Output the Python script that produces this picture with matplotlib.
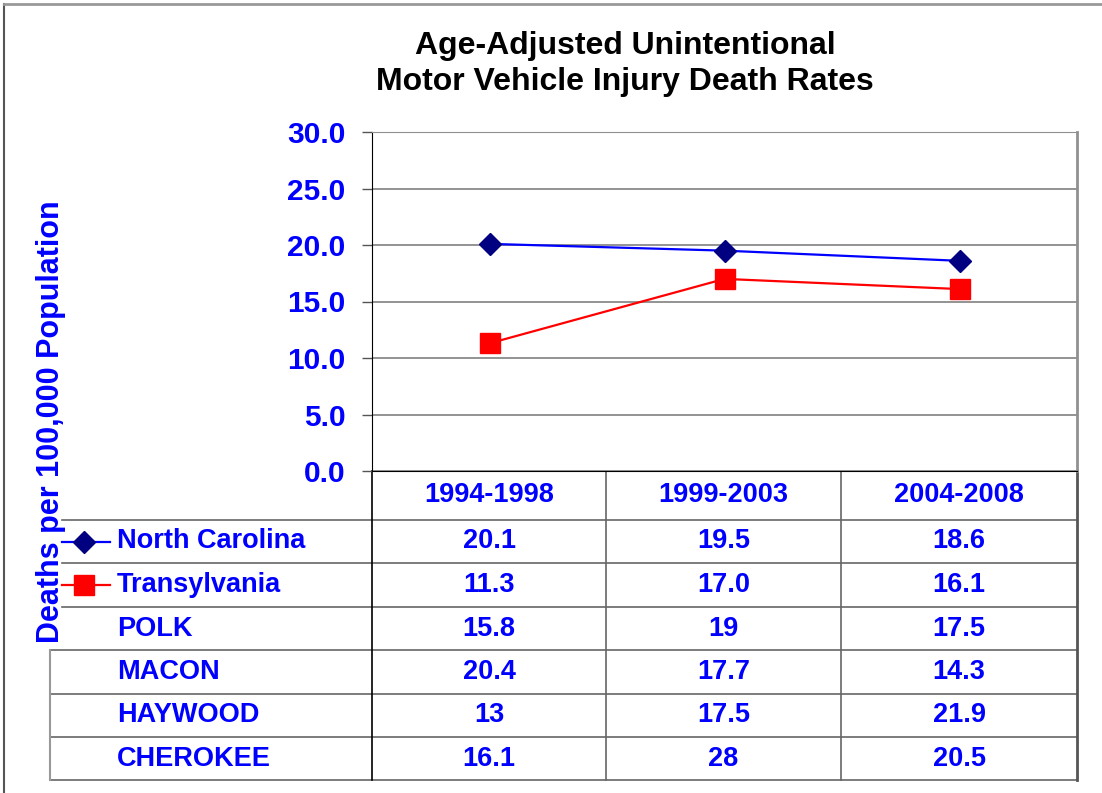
import numpy as np
import matplotlib
matplotlib.use("Agg")
import matplotlib.pyplot as plt

# Datos
periodos = ['1994-1998', '1999-2003', '2004-2008']
series = ['North Carolina', 'Transylvania', 'POLK', 'MACON', 'HAYWOOD', 'CHEROKEE']
north_carolina = [20.1, 19.5, 18.6]
transylvania = [11.3, 17.0, 16.1]
polk = ['15.8', '19', '17.5']
macon = ['20.4', '17.7', '14.3']
haywood = ['13', '17.5', '21.9']
cherokee = ['16.1', '28', '20.5']

tabla = [
    ['%.1f' % v for v in north_carolina],
    ['%.1f' % v for v in transylvania],
    polk, macon, haywood, cherokee,
]

W, H = 1102, 793
azul = '#0000FF'
fuente = 'Liberation Sans'

fig = plt.figure(figsize=(W / 100, H / 100), dpi=100)

# capa de fondo en coordenadas de pixel
capa = fig.add_axes([0, 0, 1, 1])
capa.set_xlim(0, W)
capa.set_ylim(H, 0)
capa.axis('off')

# area del grafico
x0, x1, y0, y1 = 372, 1077, 132, 471
ax = fig.add_axes([x0 / W, 1 - y1 / H, (x1 - x0) / W, (y1 - y0) / H])
x = np.arange(len(periodos))
ax.plot(x, north_carolina, color=azul, lw=1.6, marker='D', ms=11,
        mfc='#000080', mec='#000080', zorder=3)
ax.plot(x, transylvania, color='#FF0000', lw=1.6, marker='s', ms=14.5,
        mfc='#FF0000', mec='#FF0000', zorder=3)
ax.set_xlim(-0.5, len(periodos) - 0.5)
ax.set_ylim(0, 30)
ax.set_yticks(np.arange(0, 31, 5))
ax.set_yticklabels(['%.1f' % v for v in np.arange(0, 31, 5)],
                   fontfamily=fuente, fontweight='bold', fontsize=21.5, color=azul)
ax.tick_params(axis='y', length=7, width=1, color='#555555', pad=12)
ax.set_xticks([])
ax.grid(axis='y', color='#808080', lw=1.2)
ax.set_axisbelow(True)
ax.spines['left'].set_color('black')
ax.spines['bottom'].set_color('black')
ax.spines['top'].set_color('#909090')
ax.spines['right'].set_color('#909090')
ax.spines['right'].set_linewidth(2)

# titulo
capa.text(625, 64, 'Age-Adjusted Unintentional\nMotor Vehicle Injury Death Rates',
          ha='center', va='center', fontfamily=fuente, fontweight='bold',
          fontsize=23, color='black', linespacing=1.24)

# etiqueta del eje y
capa.text(51, 422, 'Deaths per 100,000 Population', rotation=90, ha='center',
          va='center', fontfamily=fuente, fontweight='bold', fontsize=22, color=azul)

# tabla de datos
filas = [471, 520, 563, 607, 650, 694, 737, 780]
cols = [372, 606, 841, 1077]
gris = '#666666'
for i, yy in enumerate(filas[1:]):
    inicio = 62 if i < 3 else 50
    capa.plot([inicio, cols[-1]], [yy, yy], color=gris, lw=1.2)
capa.plot([50, 50], [650, 780], color='#999999', lw=1.5)
capa.plot([372, 372], [471, 780], color='black', lw=1.2)
capa.plot([606, 606], [471, 780], color=gris, lw=1.2)
capa.plot([841, 841], [471, 780], color=gris, lw=1.2)
capa.plot([1077, 1077], [471, 780], color='#555555', lw=2)

centros_x = [(cols[i] + cols[i + 1]) / 2 for i in range(3)]
for j, p in enumerate(periodos):
    capa.text(centros_x[j], (filas[0] + filas[1]) / 2, p, ha='center', va='center',
              fontfamily=fuente, fontweight='bold', fontsize=19.5, color=azul)

for i, nombre in enumerate(series):
    yc = (filas[i + 1] + filas[i + 2]) / 2
    capa.text(117, yc, nombre, ha='left', va='center', fontfamily=fuente,
              fontweight='bold', fontsize=19.5, color=azul)
    for j in range(3):
        capa.text(centros_x[j], yc, tabla[i][j], ha='center', va='center',
                  fontfamily=fuente, fontweight='bold', fontsize=19.5, color=azul)

# claves de leyenda
yc0 = (filas[1] + filas[2]) / 2
yc1 = (filas[2] + filas[3]) / 2
capa.plot([62, 110], [yc0, yc0], color=azul, lw=1.6)
capa.plot([84], [yc0], marker='D', ms=11, color='#000080')
capa.plot([62, 110], [yc1, yc1], color='#FF0000', lw=1.6)
capa.plot([84], [yc1], marker='s', ms=14.5, color='#FF0000')

# borde exterior
capa.plot([4, 4], [4, H], color='#555555', lw=1.5)
capa.plot([4, W], [4, 4], color='#999999', lw=2)

fig.savefig('out.png', dpi=100)
